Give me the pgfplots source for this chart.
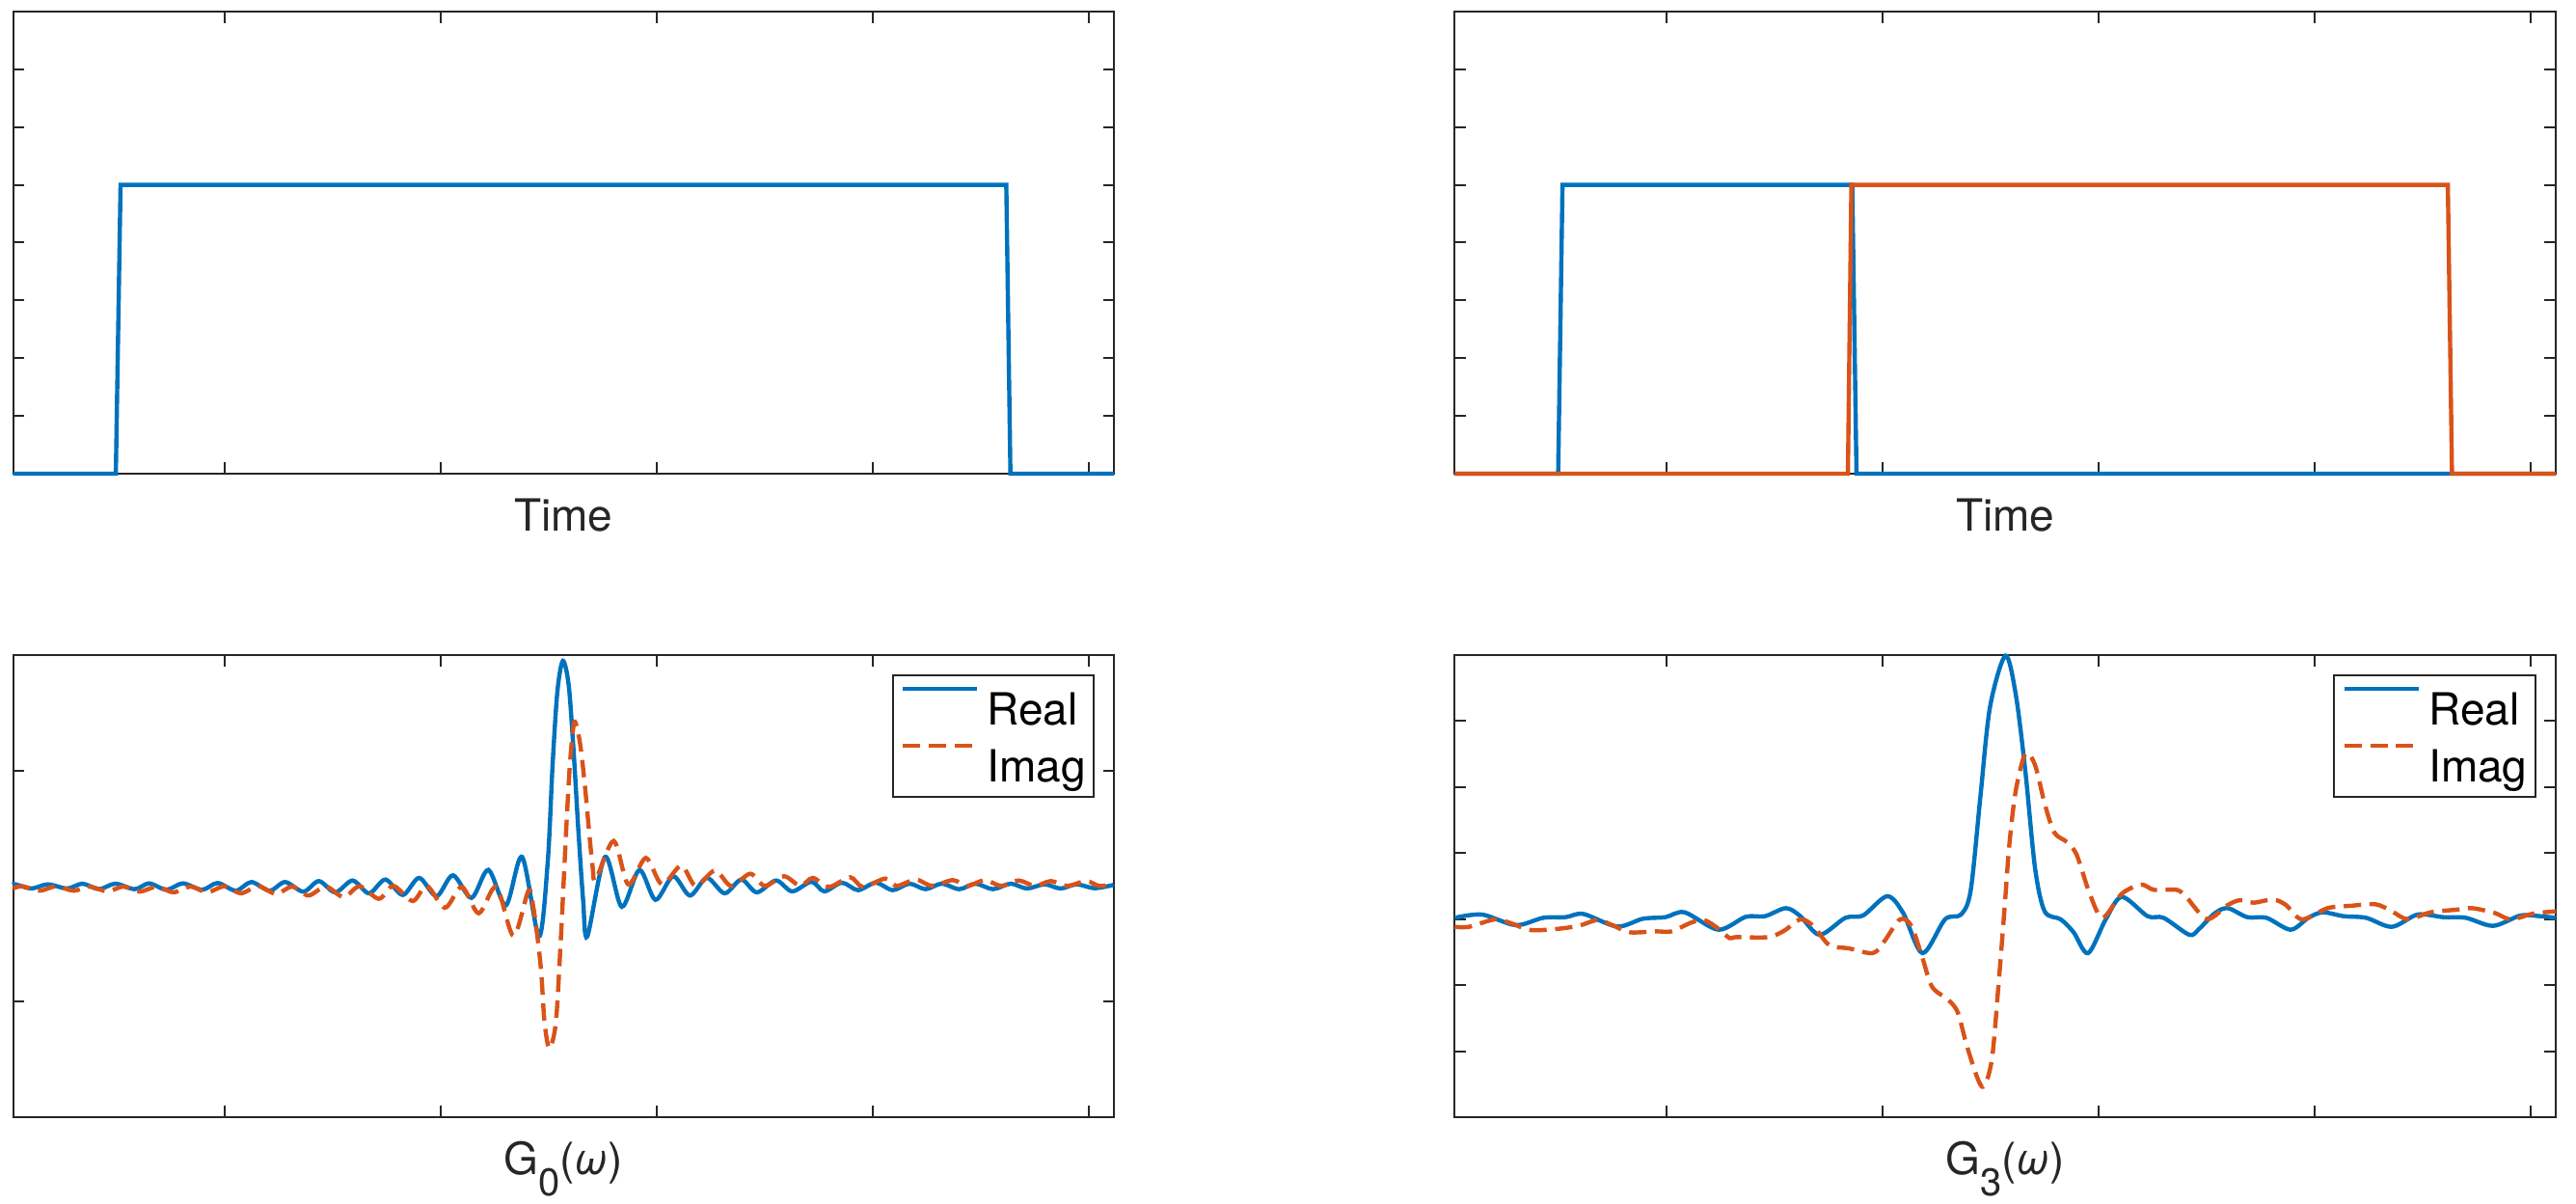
\documentclass[border=0pt]{standalone}
\usepackage{fontspec}
\setmainfont{TeX Gyre Heros}
\usepackage{pgfplots}
\pgfplotsset{compat=1.18}

\definecolor{mblue}{rgb}{0,0.447,0.741}
\definecolor{mred}{rgb}{0.85,0.325,0.098}
\definecolor{axgray}{rgb}{0.15,0.15,0.15}

\newcommand{\lblfont}{\fontsize{11.5}{13.8}\selectfont}

\pgfplotsset{
  panel/.style={
    scale only axis,
    width=285.4pt, height=119.75pt,
    anchor=south west,
    xmin=0, xmax=1141.5,
    xtick={219.5,443.5,667.5,891.5,1115.5},
    xticklabels={}, yticklabels={},
    tick align=inside,
    major tick length=2.9pt,
    axis line style={axgray, line width=0.5pt},
    every tick/.style={axgray, line width=0.5pt},
    xlabel style={at={(axis description cs:0.5,0)}, anchor=base, yshift=-15pt,
                  font=\lblfont, text=axgray},
    clip=false,
    legend cell align=left,
    legend style={at={(1,1)}, anchor=north east, xshift=-5pt, yshift=-5pt,
                  draw=axgray, line width=0.5pt, font=\lblfont,
                  inner xsep=2.1pt, inner ysep=1pt,
                  column sep=2.1pt, row sep=0.1pt,
                  nodes={inner sep=0pt, text height=11.9pt, text depth=2.75pt}},
    legend image code/.code={\draw[#1] (0pt,4.8pt) -- (19.2pt,4.8pt);},
  },
  real/.style={mblue, line width=1.1pt},
  imag/.style={mred, line width=1.1pt, dash pattern=on 4.5pt off 2.2pt},
}

\begin{document}
\begin{tikzpicture}

% top left: single pulse
\begin{axis}[panel, at={(3.4pt,189.25pt)},
    ymin=0, ymax=1.6, ytick={0.2,0.4,0.6,0.8,1.0,1.2,1.4},
    xlabel={Time}]
\addplot[real] coordinates {(0,0) (106.5,0) (111.4,1) (1029.7,1) (1034,0) (1141.5,0)};
\end{axis}

% top right: two pulses
\begin{axis}[panel, at={(377.08pt,189.25pt)},
    ymin=0, ymax=1.6, ytick={0.2,0.4,0.6,0.8,1.0,1.2,1.4},
    xlabel={Time}]
\addplot[real] coordinates {(0,0) (107.3,0) (111.8,1) (412.2,1) (416.6,0) (1141.5,0)};
\addplot[mred, line width=1.1pt] coordinates {(0,0) (407.7,0) (411.3,1) (1029.7,1) (1034,0) (1141.5,0)};
\end{axis}

% bottom left: G0
\begin{axis}[panel, at={(3.4pt,22.5pt)},
    ymin=-239.5, ymax=239.5, ytick={-119.75,0,119.75},
    xlabel={G\raisebox{-5.3pt}{\fontsize{10}{10}\selectfont 0}(\textit{ω})}]
\addplot[real, smooth] coordinates {
 (0,1.5) (2.7,1.8) (19,-2.5) (36,1.8) (56,-2.5) (72,2.5) (89,-3.2) (106,2.5)
 (126,-3.2) (141,2.8) (159,-3.8) (176,2.8) (196,-3.8) (212,3.2) (231,-4.8)
 (247,4.2) (266,-4.8) (282,4.2) (301,-5.8) (317,5.2) (334,-6.5) (352,5.8)
 (369,-7.5) (386,6.8) (404,-9.2) (421,8.5) (439,-10.5) (456,11.2) (475.3,-12.2)
 (492.7,16.8) (511,-19.8) (527.7,30.2) (545.3,-52.2) (554.3,25.2) (559.3,125.2)
 (564.3,201.8) (570,233.5) (576,208.5) (581,141.8) (586,58.5) (591,-14.8)
 (595.3,-52.2) (613.7,30.2) (631,-21.5) (649.3,16.8) (666,-14.2) (684.3,10.2)
 (701.7,-9.8) (719.3,8.5) (737.7,-7.5) (755,6.8) (771,-6.5) (791,5.8)
 (807.7,-5.5) (827.7,4.5) (841,-5.5) (859.3,3.5) (876,-4.2) (894.3,3.5)
 (912,-4.2) (929.3,2.5) (946,-3.2) (962.7,2.5) (981,-3.2) (997.7,2.5)
 (1016,-3.2) (1034.3,2.5) (1051,-2.5) (1069.3,1.8) (1086,-2.5) (1102.7,1.8)
 (1121,-2.2) (1141,1.2)
};
\addplot[imag, smooth] coordinates {
 (0,-2.5) (9.3,-0.2) (27.7,-4.8) (44.3,-0.2) (62.7,-4.8) (79.3,-0.5) (97.7,-5.5)
 (114.3,-0.5) (131,-5.8) (149.3,-0.5) (166,-6.5) (184.3,-0.5) (201,-6.5)
 (219.3,-0.2) (236,-7.5) (254.3,-0.2) (272.7,-8.2) (289.3,-0.5) (306,-9.8)
 (324.3,-0.5) (342.7,-11.5) (359.3,-0.2) (379.3,-13.2) (394.3,0.2) (414.3,-15.5)
 (429,0.2) (447.7,-22.5) (465.3,-0.8) (482.7,-28.2) (501,-0.8) (518.7,-51.5)
 (534.3,-4.8) (539.3,-21.5) (544.3,-58.2) (547.7,-91.5) (551,-141.5) (556,-168.2)
 (562.7,-141.5) (567.7,-58.2) (571,8.5) (574.3,75.2) (577.7,131.8) (582,170.2)
 (587.7,148.5) (592.7,105.2) (597,58.5) (601,18.5) (604,6.5) (622.7,46.8)
 (637.7,1.8) (656,29.2) (672.7,1.8) (692.7,21.2) (707.7,0.2) (727.7,16.2)
 (744.3,0.2) (764.3,12.8) (779.3,0.2) (799.3,10.2) (816,0.2) (829,8.5)
 (846,-0.8) (867.7,9.2) (881,-0.8) (904.3,7.8) (916,0.2) (936,6.8) (952.7,0.2)
 (974.3,6.2) (989.3,0.2) (1007.7,6.2) (1024.3,0.2) (1042.7,5.8) (1059.3,0.2)
 (1076,5.2) (1092.7,0.2) (1112.7,5.2) (1126,0.2) (1141,1.8)
};
\legend{Real,Imag}
\end{axis}

% bottom right: G3
\begin{axis}[panel, at={(377.08pt,22.5pt)},
    ymin=-205.3, ymax=273.7, ytick={-136.9,-68.4,0,68.4,136.9,205.3},
    xlabel={G\raisebox{-5.3pt}{\fontsize{10}{10}\selectfont 3}(\textit{ω})}]
\addplot[real, smooth] coordinates {
 (0,1.3) (28.4,4.7) (63.4,-6.3) (91.7,1.3) (115,2) (133.4,5.3) (168.4,-7.7)
 (195,0.3) (218.4,2) (238.4,7) (273.4,-11) (301.7,2.3) (321.7,3) (343.4,11.3)
 (358.4,3) (378.4,-16.3) (405,1.3) (423.4,3.7) (448.4,23.7) (465,6.3)
 (485,-35.3) (508.4,-0.3) (525,4.7) (535,29.7) (545,126.3) (555,219.7)
 (571,273) (581.7,233) (591.7,153) (601.7,53) (611.7,8) (628.4,-0.3)
 (641.7,-13.7) (656.7,-35.3) (675,-0.3) (691.7,23) (718.4,3) (735,1.3)
 (761.7,-16.3) (771.7,-10.3) (788.4,6.3) (801.7,11.3) (821.7,2) (841.7,1.3)
 (866.7,-11) (885,1.3) (900,7) (921.7,3) (945,1.3) (971.7,-8) (998.4,4.7)
 (1025,2) (1048.4,1.3) (1076.7,-7) (1105,3.7) (1125,3) (1141.7,1.3)
};
\addplot[imag, smooth] coordinates {
 (0,-8) (15,-8) (41.7,-0.3) (58.4,-4.3) (78.4,-11.3) (105,-10.3) (128.4,-7)
 (148.4,-1) (165,-7) (181.7,-13.7) (208.4,-12.7) (225,-12.7) (245,-3.7)
 (258.4,-1) (271.7,-8.7) (285,-19.7) (291.7,-18.7) (325,-18.7) (341.7,-12)
 (358.4,-0.3) (371.7,-7) (388.4,-27) (408.4,-30.3) (433.4,-35.3) (445,-23.7)
 (461.7,-0.3) (473.4,-7) (485,-40.3) (495,-70.3) (511.7,-83.7) (521.7,-97)
 (531.7,-133.7) (546.7,-173.7) (556.7,-147) (563.4,-73.7) (570,9.7) (575,76.3)
 (581.7,133) (591.7,171.3) (601.7,159.7) (611.7,119.7) (621.7,89.7) (635,79.7)
 (645,66.3) (658.4,26.3) (671.7,1.3) (691.7,26.3) (711.7,35.7) (725,30.3)
 (748.4,30.3) (758.4,23) (780,0) (801.7,14.7) (815,19.7) (828.4,17)
 (848.4,20.3) (861.7,14.7) (878.4,-0.3) (905,11.3) (928.4,13.7) (955,15.3)
 (971.7,8) (988.4,-0.3) (1011.7,7) (1038.4,9.7) (1055,11.3) (1078.4,6.3)
 (1095,-0.3) (1118.4,5.7) (1141.7,8)
};
\legend{Real,Imag}
\end{axis}

\pgfresetboundingbox
\path[use as bounding box] (0,0) rectangle (667.75pt,312pt);
\end{tikzpicture}
\end{document}
